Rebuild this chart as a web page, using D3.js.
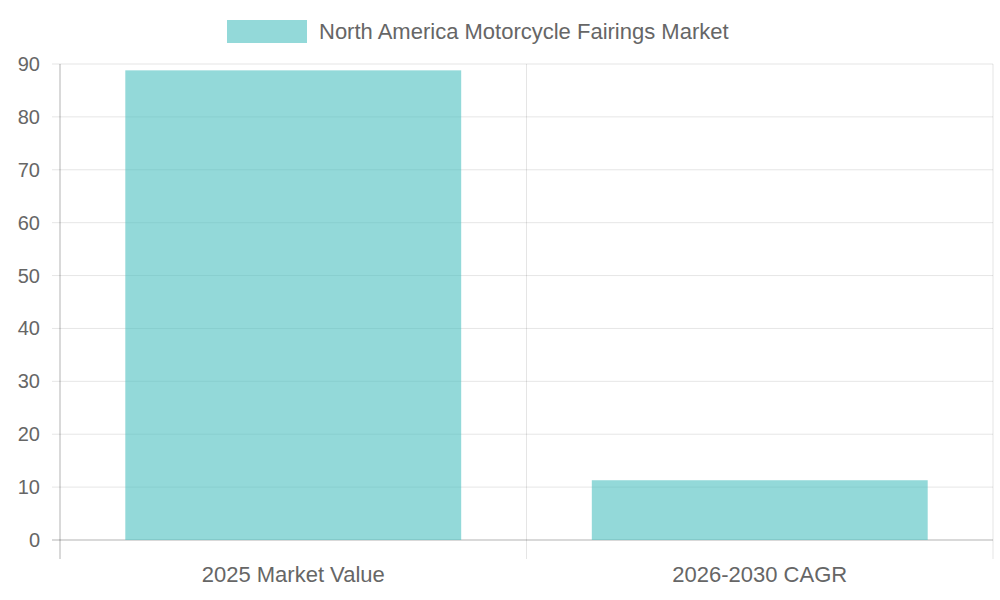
<!DOCTYPE html>
<html><head><meta charset="utf-8">
<script src="https://cdn.jsdelivr.net/npm/d3@7"></script>
<style>body{margin:0;background:#fff}text{font-family:"Liberation Sans",Arial,sans-serif;fill:#666}</style>
</head><body><svg id="c" width="1000" height="600"></svg>
<script>
const categories = ["2025 Market Value", "2026-2030 CAGR"];
const values = [88.8, 11.3];
const seriesName = "North America Motorcycle Fairings Market";
const yTicks = [0,10,20,30,40,50,60,70,80,90];

const svg = d3.select("#c");
const L=60,R=993,T=64,B=540;
const x = d3.scaleBand().domain(categories).range([L,R]).paddingInner(0).paddingOuter(0);
const y = d3.scaleLinear().domain([0,90]).range([B,T]);
const inner = 0.72;

// grid
svg.selectAll(".hg").data(yTicks).enter().append("line")
 .attr("x1",L-8).attr("x2",R).attr("y1",d=>y(d)).attr("y2",d=>y(d))
 .attr("stroke",d=>d===0?"rgba(0,0,0,0.3)":"rgba(0,0,0,0.1)");
const vx=[L, ...categories.map(c=>x(c)+x.bandwidth())];
svg.selectAll(".vg").data(vx).enter().append("line")
 .attr("x1",d=>d).attr("x2",d=>d).attr("y1",T).attr("y2",B+19)
 .attr("stroke",(d,i)=>i===0?"rgba(0,0,0,0.3)":"rgba(0,0,0,0.1)");

// bars
svg.selectAll(".bar").data(values).enter().append("rect")
 .attr("x",(d,i)=>x(categories[i])+x.bandwidth()*(1-inner)/2)
 .attr("width",x.bandwidth()*inner)
 .attr("y",d=>y(d)).attr("height",d=>B-y(d))
 .attr("fill","rgba(75,192,192,0.6)");

// y labels
svg.selectAll(".yl").data(yTicks).enter().append("text")
 .attr("x",L-20).attr("y",d=>y(d)).attr("dy","0.35em").attr("text-anchor","end")
 .attr("font-size",20).text(d=>d);
// x labels
svg.selectAll(".xl").data(categories).enter().append("text")
 .attr("x",d=>x(d)+x.bandwidth()/2).attr("y",582).attr("text-anchor","middle")
 .attr("font-size",22).text(d=>d);
// legend
svg.append("rect").attr("x",227).attr("y",20).attr("width",80).attr("height",23).attr("fill","rgba(75,192,192,0.6)");
svg.append("text").attr("x",319).attr("y",39).attr("font-size",22).text(seriesName);
</script></body></html>
